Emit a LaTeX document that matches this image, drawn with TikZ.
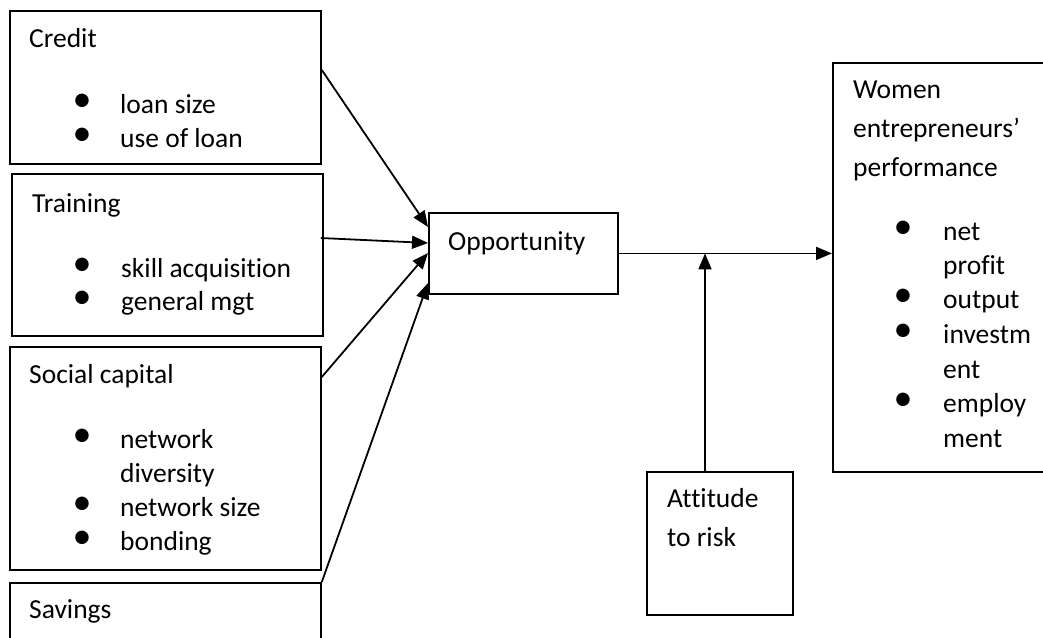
\documentclass[tikz,border=0pt]{standalone}
\usepackage{fontspec}
\setmainfont{Carlito}[Ligatures=NoCommon]
\usetikzlibrary{arrows.meta,calc,positioning}
\tikzset{
  box/.style={draw,line width=1.8pt,rectangle,inner sep=0pt,anchor=north west},
  txt/.style={anchor=base west,inner sep=0pt,font=\fontsize{27.5}{33}\selectfont},
  bul/.style={anchor=center,inner sep=0pt,font=\fontsize{38}{38}\selectfont},
  arr/.style={line width=1.8pt,-{Triangle[length=16pt,width=13pt]}}
}
\begin{document}
\begin{tikzpicture}[x=1pt,y=-1pt]
\useasboundingbox (0,0) rectangle (1043,637);
\clip (0,0) rectangle (1043,637);
% boxes
\node[box,minimum width=311,minimum height=153] (credit) at (9,10) {};
\node[box,minimum width=311,minimum height=162] (training) at (11,173) {};
\node[box,minimum width=311,minimum height=223] (social) at (9,346) {};
\node[box,minimum width=311,minimum height=80] (savings) at (9,582) {};
\node[box,minimum width=189,minimum height=81] (opp) at (428,212) {};
\node[box,minimum width=240,minimum height=409] (women) at (832,62) {};
\node[box,minimum width=146,minimum height=143] (attitude) at (646,471) {};
% credit
\node[txt] (credit-h) at (29,47) {Credit};
\node[bul] (credit-b1) at (82,103) {\textbullet};
\node[txt] (credit-1) at (120,113) {loan size};
\node[bul] (credit-b2) at (82,137) {\textbullet};
\node[txt] (credit-2) at (120,147) {use of loan};
% training
\node[txt] (training-h) at (32,212) {Training};
\node[bul] (training-b1) at (82,267) {\textbullet};
\node[txt] (training-1) at (121,277) {skill acquisition};
\node[bul] (training-b2) at (82,300) {\textbullet};
\node[txt] (training-2) at (121,310) {general mgt};
% social capital
\node[txt] (social-h) at (29,383) {Social capital};
\node[bul] (social-b1) at (82,438) {\textbullet};
\node[txt] (social-1) at (120,448) {network};
\node[txt] (social-1b) at (120,482) {diversity};
\node[bul] (social-b2) at (82,506) {\textbullet};
\node[txt] (social-2) at (120,516) {network size};
\node[bul] (social-b3) at (82,540) {\textbullet};
\node[txt] (social-3) at (120,550) {bonding};
% savings
\node[txt] (savings-h) at (29,618) {Savings};
% opportunity
\node[txt] (opp-h) at (448,250) {Opportunity};
% performance
\node[txt] (women-h1) at (853,98) {Women};
\node[txt] (women-h2) at (853,137) {entrepreneurs’};
\node[txt] (women-h3) at (853,176) {performance};
\node[bul] (women-b1) at (903,230) {\textbullet};
\node[txt] (women-1) at (943,240) {net};
\node[txt] (women-1b) at (943,274) {profit};
\node[bul] (women-b2) at (903,298) {\textbullet};
\node[txt] (women-2) at (943,308) {output};
\node[bul] (women-b3) at (903,333) {\textbullet};
\node[txt] (women-3) at (943,343) {investm};
\node[txt] (women-3b) at (943,378) {ent};
\node[bul] (women-b4) at (903,402) {\textbullet};
\node[txt] (women-4) at (943,412) {employ};
\node[txt] (women-4b) at (943,447) {ment};
% attitude
\node[txt] (attitude-h1) at (667,507) {Attitude};
\node[txt] (attitude-h2) at (667,546) {to risk};
% connectors
\draw[arr] ($(credit.north east)+(0,60)$) -- ($(opp.north west)+(0,15)$);
\draw[arr] ($(training.north east)+(-3,65)$) -- ($(opp.north west)+(0,31)$);
\draw[arr] ($(social.north east)+(0,31)$) -- ($(opp.north west)+(0,41)$);
\draw[arr] (savings.north east) -- ($(opp.north west)+(0,71)$);
\draw[arr] (opp.east) -- (opp.east -| women.west);
\coordinate (risk-top) at ($(attitude.north west)+(59,0)$);
\draw[arr] (risk-top) -- (risk-top |- opp.east);
\end{tikzpicture}
\end{document}
